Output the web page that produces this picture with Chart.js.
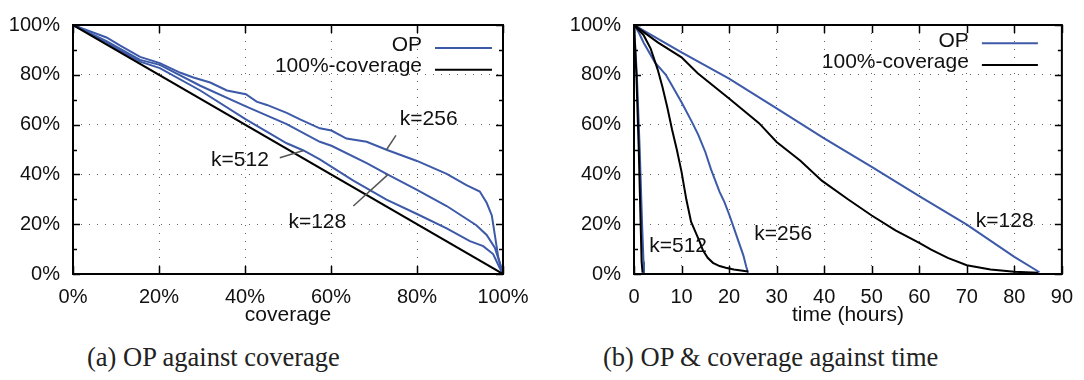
<!DOCTYPE html>
<html>
<head>
<meta charset="utf-8">
<script src="https://cdn.jsdelivr.net/npm/chart.js@4.4.0/dist/chart.umd.min.js"></script>
<style>
  body { margin: 0; background: #fff; width: 1084px; height: 380px; position: relative; overflow: hidden; }
  canvas { position: absolute; top: 0; }
  #chartA { left: 0; }
  #chartB { left: 550px; }
  .caption { position: absolute; top: 342px; line-height: 30px; font-family: "Liberation Serif", serif; font-size: 26.5px; color: #222; white-space: nowrap; }
</style>
</head>
<body>
<canvas id="chartA" width="540" height="335"></canvas>
<canvas id="chartB" width="534" height="335"></canvas>
<div class="caption" style="left:87px">(a) OP against coverage</div>
<div class="caption" style="left:603px">(b) OP &amp; coverage against time</div>
<script>
// (a) OP (%) against coverage (%), one curve per k
const coverageK256 = [0, 7.8, 10.9, 15.6, 20.2, 25, 28, 31.9, 35.8, 40.2, 42.7, 45.1, 49.7, 52.8, 57.4, 60.1, 63.6, 68.3, 72.9, 80, 86.9, 91.5, 94.6, 96.2, 97.4, 98.1, 98.9, 100];
const opK256 = [100, 95, 91.8, 87.2, 84.7, 80.8, 78.9, 76.9, 73.7, 72.2, 69.2, 67.9, 64.7, 62.1, 58.5, 57.6, 54.4, 53.1, 49.9, 45.4, 40.2, 35.7, 33.1, 28.6, 23.5, 15.7, 6.7, 0];

const coverageK128 = [0, 7.8, 10.9, 15.6, 20.2, 29.6, 40.2, 49.7, 57.4, 60.1, 68.3, 72.9, 80, 86.9, 93.8, 96.2, 98.1, 99.3, 100];
const opK128 = [100, 93.5, 90.5, 86, 84, 75.6, 67.3, 60.2, 53.1, 51.5, 44.5, 40.2, 33.8, 27.3, 19.6, 15.7, 10.6, 4.1, 0];

const coverageK512 = [0, 7.8, 10.9, 15.6, 20.2, 29.6, 40.2, 49.7, 53.6, 57.4, 65.1, 72.9, 80, 86.9, 92.3, 95.4, 97.7, 99.3, 100];
const opK512 = [100, 93, 89.8, 85.3, 82.7, 73.7, 62.1, 52.5, 49.6, 46, 37.6, 29.9, 24.1, 18.3, 13.2, 11.2, 8, 2.2, 0];

const coverageFull = [0, 100];
const remainingFull = [100, 0];

// (b) OP and 100%-coverage against time (hours)
const hoursOpK128 = [0, 10, 20, 30, 40, 50, 60, 70, 80, 85.3];
const opTimeK128 = [100, 89, 78.5, 66.5, 54.5, 43, 31.3, 19.8, 6.9, 0.7];
const hoursCovK128 = [0, 5, 10, 13.4, 20, 26.3, 30, 35, 39.5, 45, 50, 55, 60, 62.5, 66, 70, 75, 80, 85];
const remainingK128 = [100, 93, 87, 80.6, 70.5, 60.6, 53, 45.5, 37.5, 30, 23.5, 17.5, 12.5, 9.8, 6.5, 3.5, 1.8, 0.9, 0.5];

const hoursOpK256 = [0, 1, 2, 4.4, 6.7, 8.5, 10, 12.2, 13.5, 15, 16.2, 18, 19, 20, 21, 22, 23, 23.6, 24];
const opTimeK256 = [100, 97, 93, 85, 80, 74, 69, 61, 56, 49, 42, 33, 29, 24, 18.5, 13, 7.5, 3, 0.5];
const hoursCovK256 = [0, 2, 3.5, 5, 6, 7, 8, 9, 10, 11, 12, 12.9, 13.8, 14.5, 15.5, 16.6, 18, 19.3, 21, 24];
const remainingK256 = [100, 96, 90.5, 82, 75, 67, 58, 50, 41, 30, 21, 17, 13, 9.5, 6.5, 4.5, 3.2, 2.5, 1.8, 1];

const hoursOpK512 = [0, 0.6, 1.2, 1.7, 2, 2.1];
const opTimeK512 = [100, 80, 50, 20, 5, 0];
const hoursCovK512 = [0, 0.5, 1, 1.4, 1.6, 1.8];
const remainingK512 = [100, 80, 50, 20, 5, 0.5];

const blue = '#3d5aa8';
const black = '#000';
const family = '"Liberation Sans", Arial, sans-serif';

function pairs(xs, ys) {
    return xs.map((x, i) => ({ x: x, y: ys[i] }));
}

function curve(label, xs, ys, color) {
    return { label: label, data: pairs(xs, ys), borderColor: color, borderWidth: 2, pointRadius: 0, fill: false, tension: 0 };
}

// gnuplot style: solid frame with inward tick marks, minor ticks every 10% on y
const framePlugin = {
    id: 'frame',
    afterDatasetsDraw(chart) {
        const { ctx, chartArea: a, scales } = chart;
        ctx.save();
        ctx.strokeStyle = '#000';
        ctx.lineWidth = 1.5;
        ctx.beginPath();
        scales.x.ticks.forEach(t => {
            const px = Math.round(scales.x.getPixelForValue(t.value)) + 0.5;
            ctx.moveTo(px, a.top); ctx.lineTo(px, a.top + 8);
            ctx.moveTo(px, a.bottom); ctx.lineTo(px, a.bottom - 8);
        });
        for (let v = 0; v <= 100; v += 10) {
            const len = v % 20 === 0 ? 7 : 4;
            const py = Math.round(scales.y.getPixelForValue(v)) + 0.5;
            ctx.moveTo(a.left, py); ctx.lineTo(a.left + len, py);
            ctx.moveTo(a.right, py); ctx.lineTo(a.right - len, py);
        }
        ctx.stroke();
        ctx.lineWidth = 2;
        ctx.strokeRect(a.left, a.top, a.right - a.left, a.bottom - a.top);
        ctx.restore();
    }
};

// key in the top right corner plus the k=... labels with their pointer lines
function notesPlugin(key, labels, pointers) {
    return {
        id: 'notes',
        afterDraw(chart) {
            const { ctx, chartArea: a, scales } = chart;
            ctx.save();
            ctx.font = '21px ' + family;
            ctx.fillStyle = '#111';
            ctx.textBaseline = 'middle';
            ctx.textAlign = 'right';
            key.items.forEach(item => {
                ctx.fillText(item.text, a.right - key.textRight, a.top + item.textY);
                ctx.strokeStyle = item.color;
                ctx.lineWidth = 2;
                ctx.beginPath();
                ctx.moveTo(a.right - key.lineStart, a.top + item.lineY);
                ctx.lineTo(a.right - key.lineEnd, a.top + item.lineY);
                ctx.stroke();
            });
            ctx.textAlign = 'left';
            labels.forEach(l => {
                ctx.fillText(l.text, scales.x.getPixelForValue(l.x), scales.y.getPixelForValue(l.y));
            });
            ctx.strokeStyle = '#555';
            ctx.lineWidth = 1.5;
            pointers.forEach(p => {
                ctx.beginPath();
                ctx.moveTo(scales.x.getPixelForValue(p[0]), scales.y.getPixelForValue(p[1]));
                ctx.lineTo(scales.x.getPixelForValue(p[2]), scales.y.getPixelForValue(p[3]));
                ctx.stroke();
            });
            ctx.restore();
        }
    };
}

function buildOptions({ xMax, xStep, xFormat, xTitle, yAxisWidth, padRight }) {
    const grid = { color: '#666', lineWidth: 1, drawTicks: false };
    const border = { display: false, dash: [1, 7] };
    return {
        responsive: false,
        animation: false,
        devicePixelRatio: 1,
        layout: { padding: { left: 0, right: padRight, top: 16, bottom: 0 } },
        plugins: { legend: { display: false }, tooltip: { enabled: false } },
        scales: {
            x: {
                type: 'linear', min: 0, max: xMax,
                ticks: { stepSize: xStep, callback: xFormat, color: '#111', font: { family: family, size: 20 }, padding: 11, maxRotation: 0, autoSkip: false },
                grid: grid, border: border,
                title: { display: true, text: xTitle, color: '#111', font: { family: family, size: 21 }, padding: { top: 0, bottom: 7 } },
                afterFit: s => { s.height = 61; }
            },
            y: {
                min: 0, max: 100,
                ticks: { stepSize: 20, callback: v => v + '%', color: '#111', font: { family: family, size: 20 }, padding: 13 },
                grid: grid, border: border,
                afterFit: s => { s.width = yAxisWidth; }
            }
        }
    };
}

new Chart(document.getElementById('chartA').getContext('2d'), {
    type: 'line',
    data: {
        datasets: [
            curve('100%-coverage', coverageFull, remainingFull, black),
            curve('k=512', coverageK512, opK512, blue),
            curve('k=128', coverageK128, opK128, blue),
            curve('k=256', coverageK256, opK256, blue)
        ]
    },
    options: buildOptions({ xMax: 100, xStep: 20, xFormat: v => v + '%', xTitle: 'coverage', yAxisWidth: 73, padRight: 37 }),
    plugins: [framePlugin, notesPlugin(
        { textRight: 81, lineStart: 68, lineEnd: 11, items: [
            { text: 'OP', color: blue, textY: 20, lineY: 23 },
            { text: '100%-coverage', color: black, textY: 41.5, lineY: 44.7 }
        ] },
        [
            { text: 'k=256', x: 76, y: 62 },
            { text: 'k=512', x: 32.1, y: 45.9 },
            { text: 'k=128', x: 50.1, y: 20.9 }
        ],
        [[75.1, 55.7, 72.9, 49.9], [48.1, 46.7, 53.6, 49.6], [65.2, 27.3, 73.3, 40]]
    )]
});

new Chart(document.getElementById('chartB').getContext('2d'), {
    type: 'line',
    data: {
        datasets: [
            curve('coverage k=128', hoursCovK128, remainingK128, black),
            curve('coverage k=256', hoursCovK256, remainingK256, black),
            curve('coverage k=512', hoursCovK512, remainingK512, black),
            curve('OP k=128', hoursOpK128, opTimeK128, blue),
            curve('OP k=256', hoursOpK256, opTimeK256, blue),
            curve('OP k=512', hoursOpK512, opTimeK512, blue)
        ]
    },
    options: buildOptions({ xMax: 90, xStep: 10, xFormat: v => String(v), xTitle: 'time (hours)', yAxisWidth: 84, padRight: 19 }),
    plugins: [framePlugin, notesPlugin(
        { textRight: 93, lineStart: 80, lineEnd: 24, items: [
            { text: 'OP', color: blue, textY: 16.2, lineY: 18.3 },
            { text: '100%-coverage', color: black, textY: 37, lineY: 40 }
        ] },
        [
            { text: 'k=512', x: 3.2, y: 11.2 },
            { text: 'k=256', x: 25.3, y: 16 },
            { text: 'k=128', x: 71.9, y: 21.3 }
        ],
        []
    )]
});
</script>
</body>
</html>
